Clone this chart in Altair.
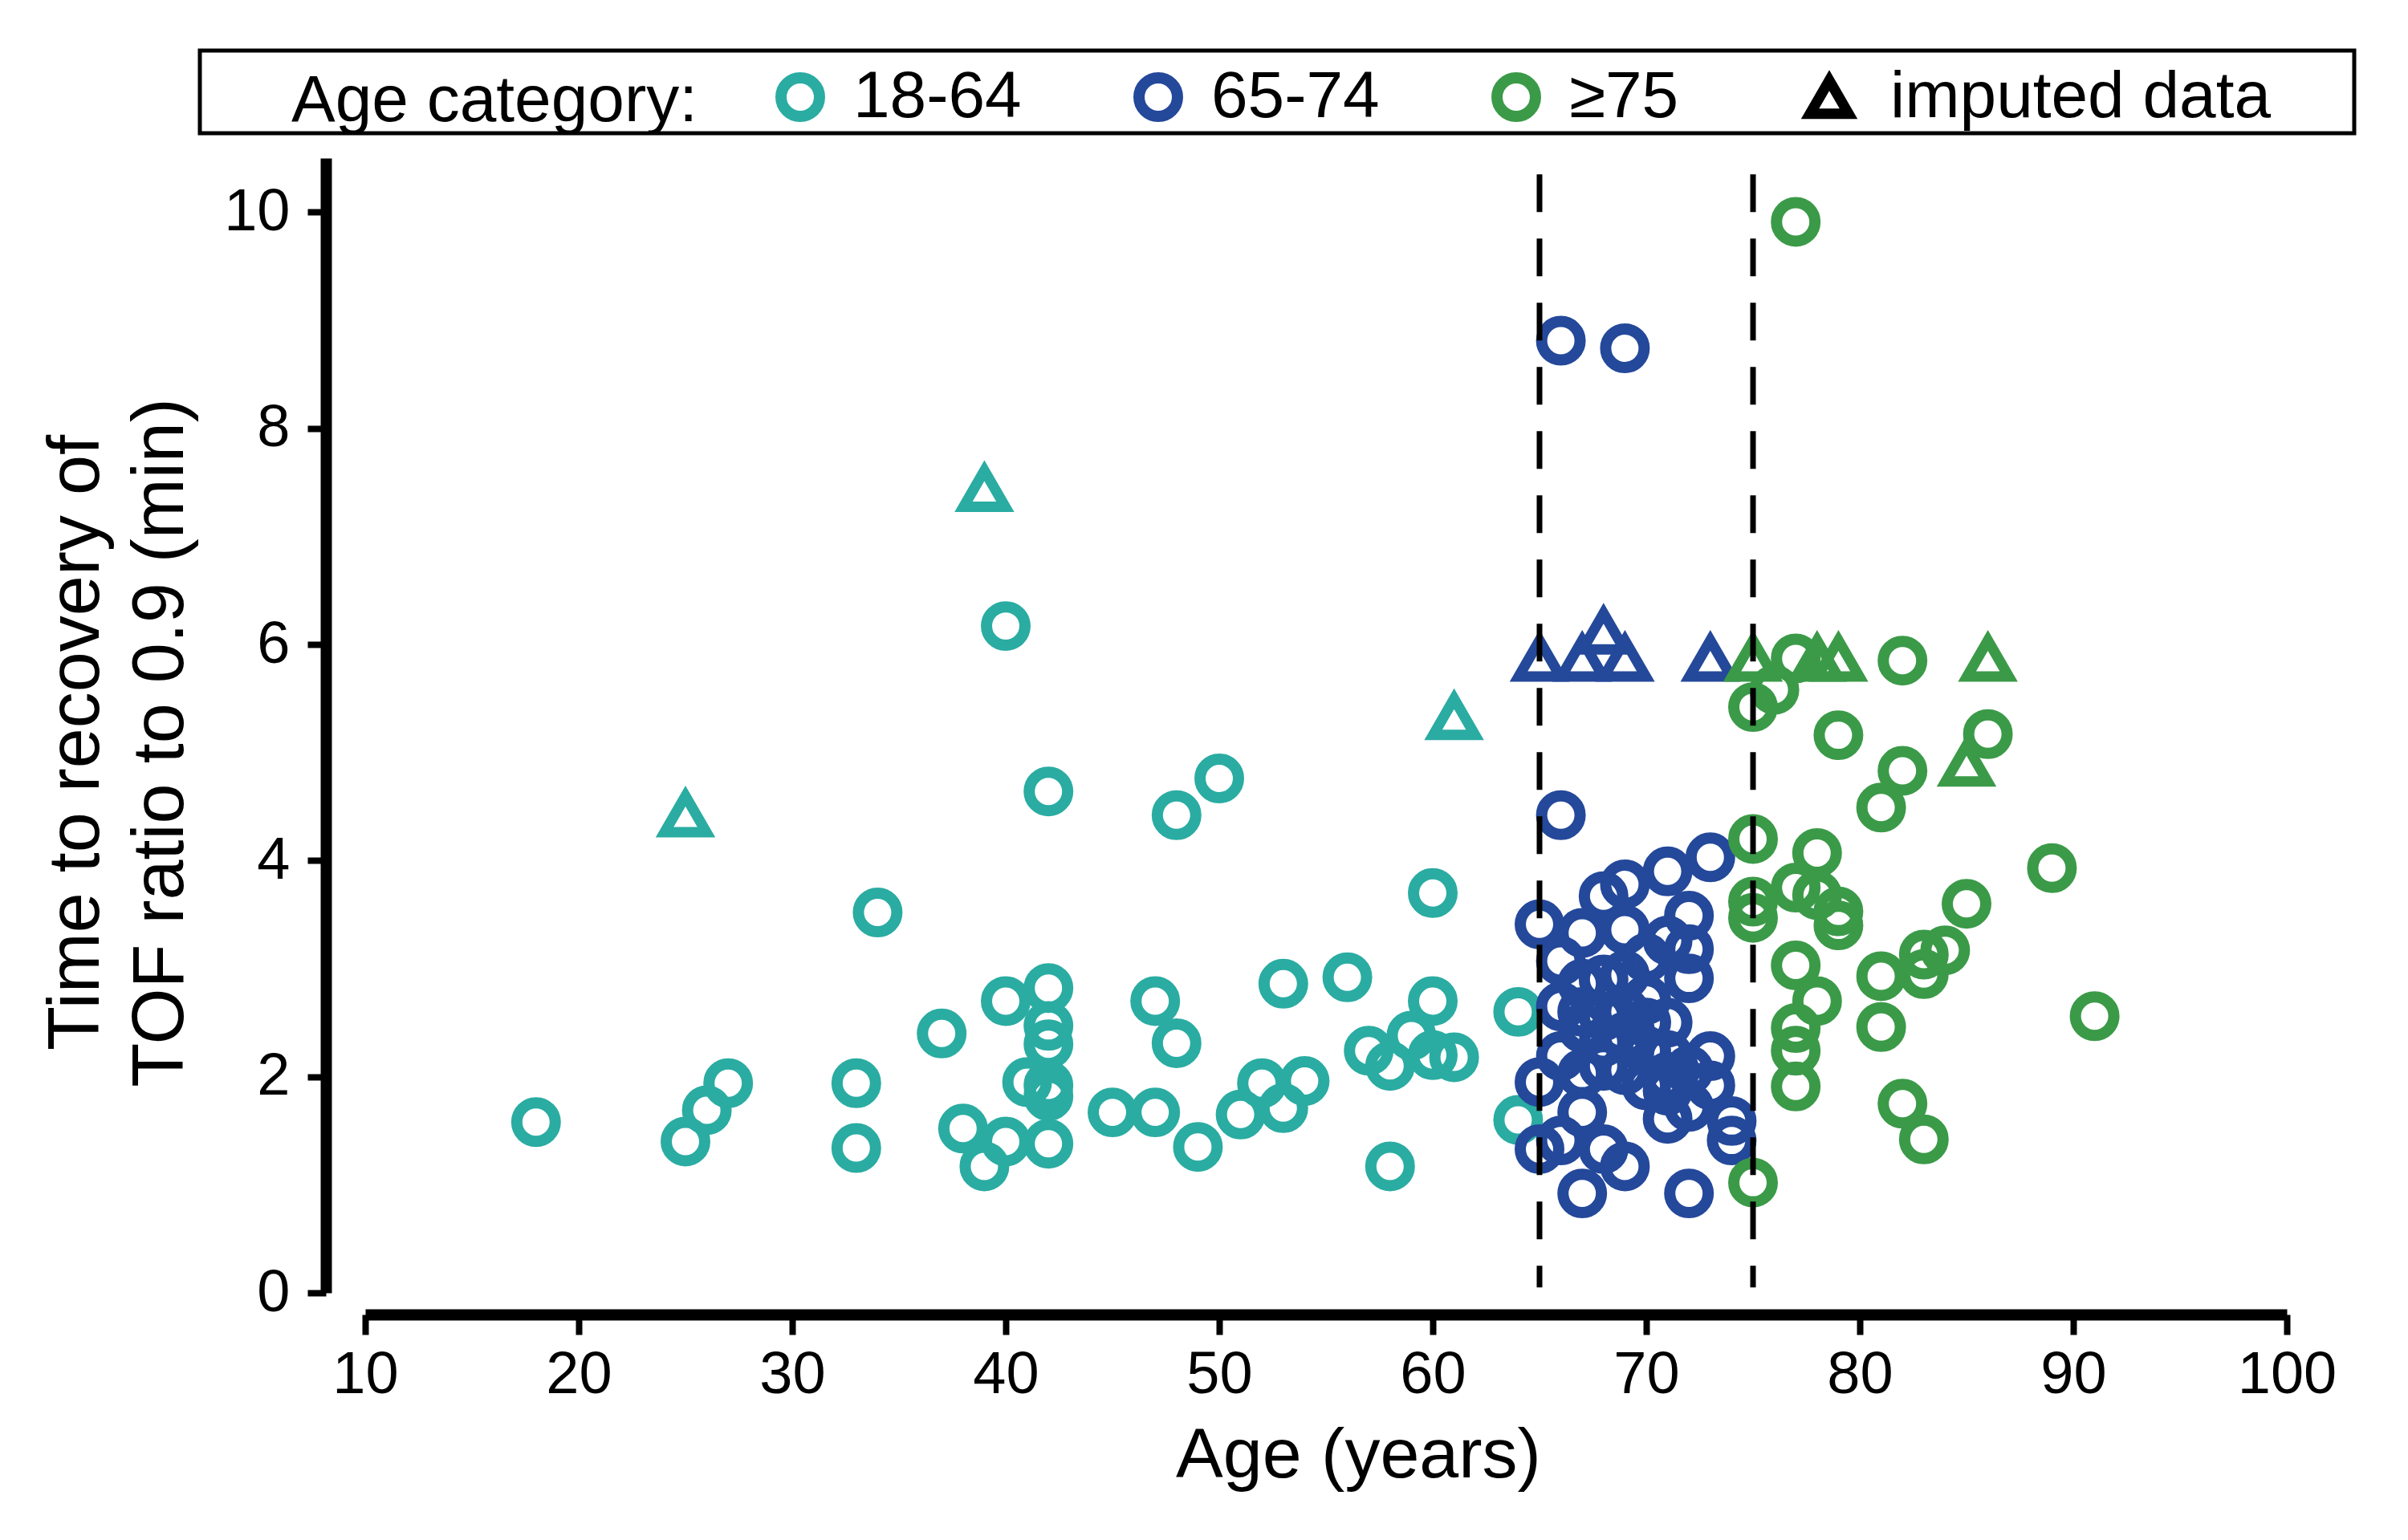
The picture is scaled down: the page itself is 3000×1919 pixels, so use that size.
import altair as alt
import pandas as pd

FONT = "Liberation Sans"

# ---- data ----
groups = ["18-64", "65-74", "\u226575"]
group_colors = ["#2aaca2", "#24489a", "#3b9a48"]
kinds = ["observed", "imputed data"]

teal_age = [18, 25, 26, 27, 33, 33, 34, 37, 38, 39, 40, 40, 40, 41, 42, 42, 42, 42, 42, 42, 42,
            45, 47, 47, 48, 48, 49, 50, 51, 52, 53, 53, 54, 56, 57, 58, 58, 59, 60, 60, 60, 61, 64, 64]
teal_time = [1.58, 1.40, 1.69, 1.94, 1.94, 1.34, 3.52, 2.40, 1.52, 1.17, 1.40, 6.17, 2.70, 1.95,
             2.82, 4.64, 2.47, 2.30, 1.92, 1.82, 1.38, 1.67, 1.67, 2.70, 2.31, 4.42, 1.35, 4.76,
             1.65, 1.94, 1.71, 2.86, 1.96, 2.92, 2.24, 2.10, 1.17, 2.38, 2.70, 3.70, 2.20, 2.18,
             2.60, 1.60]
teal_imp_age = [25, 39, 61]
teal_imp_time = [4.43, 7.44, 5.33]

blue_age = [66, 69, 66, 73, 71, 69, 68, 69, 67, 65, 72, 72, 72, 71, 69, 66, 66, 67, 68, 70, 71,
            67, 68, 69, 70, 66, 65, 67, 69, 70, 73, 72, 71, 71, 73, 74, 74, 67, 65, 66, 68, 69,
            67, 72, 68, 70, 69, 68, 70, 67, 71, 72, 71]
blue_time = [8.81, 8.74, 4.42, 4.03, 3.90, 3.78, 3.67, 3.36, 3.33, 3.41, 3.49, 3.18, 2.91, 3.26,
             2.94, 3.07, 2.65, 2.86, 2.56, 2.71, 2.50, 2.45, 2.32, 2.37, 2.24, 2.19, 1.95, 2.03,
             2.06, 1.92, 2.19, 2.06, 1.87, 1.61, 1.92, 1.59, 1.41, 1.67, 1.33, 1.41, 1.33, 1.17,
             0.92, 0.92, 2.90, 2.50, 2.60, 2.10, 3.10, 2.60, 2.20, 1.72, 2.00]
blue_imp_age = [65, 67, 68, 69, 73]
blue_imp_time = [5.87, 5.87, 6.12, 5.87, 5.87]

green_age = [77, 75, 76, 77, 82, 79, 86, 82, 81, 75, 78, 77, 75, 75, 78, 79, 79, 89, 85, 83, 84,
             83, 81, 77, 78, 81, 77, 77, 77, 91, 82, 83, 75]
green_time = [9.91, 5.42, 5.58, 5.87, 5.85, 5.16, 5.17, 4.83, 4.49, 4.20, 4.07, 3.75, 3.62, 3.47,
              3.68, 3.53, 3.40, 3.93, 3.60, 3.13, 3.17, 2.95, 2.93, 3.03, 2.70, 2.46, 2.45, 2.24,
              1.91, 2.56, 1.75, 1.42, 1.02]
green_imp_age = [75, 78, 79, 86, 85]
green_imp_time = [5.87, 5.87, 5.87, 5.87, 4.90]

cutoffs = [65, 75]
cutoff_top = 10.35
cutoff_bottom = 0.05

rows = []
for g, (a_obs, t_obs, a_imp, t_imp) in zip(
    groups,
    [(teal_age, teal_time, teal_imp_age, teal_imp_time),
     (blue_age, blue_time, blue_imp_age, blue_imp_time),
     (green_age, green_time, green_imp_age, green_imp_time)],
):
    for a, t in zip(a_obs, t_obs):
        rows.append({"age": a, "time": t, "group": g, "kind": kinds[0]})
    for a, t in zip(a_imp, t_imp):
        rows.append({"age": a, "time": t, "group": g, "kind": kinds[1]})
df = pd.DataFrame(rows)

rule_df = pd.DataFrame({"age": cutoffs, "time": [cutoff_top] * len(cutoffs),
                        "time2": [cutoff_bottom] * len(cutoffs)})

x_axis = alt.Axis(values=list(range(10, 101, 10)), title="Age (years)", offset=27,
                  domainWidth=14, tickWidth=8, tickSize=25, labelFontSize=74,
                  labelPadding=14, titleFontSize=88, titlePadding=20, titleX=1237,
                  labelFlush=False)
y_axis = alt.Axis(values=list(range(0, 11, 2)),
                  title=["Time to recovery of", "TOF ratio to 0.9 (min)"],
                  offset=49, domainWidth=14, tickWidth=8, tickSize=23, labelFontSize=74,
                  labelPadding=22, titleFontSize=90, titleLineHeight=105, titlePadding=32,
                  titleY=728, labelFlush=False)

x_enc = alt.X("age:Q", scale=alt.Scale(domain=[10, 100], nice=False, zero=False), axis=x_axis)
y_enc = alt.Y("time:Q", scale=alt.Scale(domain=[0, 10.5], nice=False), axis=y_axis)

color_legend = alt.Legend(orient="none", legendX=-92, legendY=-117,
                          direction="horizontal", title="Age category:",
                          titleOrient="left", titlePadding=87, titleLimit=2000,
                          titleAnchor="middle", titleBaseline="middle",
                          labelLimit=2000, symbolType="circle", symbolSize=2300,
                          symbolStrokeWidth=14, labelOffset=25,
                          columnPadding=118, padding=0,
                          labelFontSize=82, titleFontSize=82)
color_enc = alt.Color("group:N", scale=alt.Scale(domain=groups, range=group_colors),
                      legend=color_legend)

base = alt.Chart(df)

circles = base.transform_filter(alt.datum.kind == kinds[0]).mark_point(
    filled=False, shape="circle", size=2300, strokeWidth=14, opacity=1
).encode(x=x_enc, y=y_enc, color=color_enc)

triangles = base.transform_filter(alt.datum.kind == kinds[1]).mark_point(
    filled=False, size=2700, strokeWidth=13, opacity=1, color="black"
).encode(
    x=x_enc, y=y_enc, color=color_enc,
    shape=alt.Shape("kind:N", scale=alt.Scale(domain=[kinds[1]], range=["triangle-up"]),
                    legend=alt.Legend(orient="none", legendX=1783, legendY=-117,
                                      title=None, symbolStrokeColor="black",
                                      symbolSize=2300, symbolStrokeWidth=13,
                                      labelOffset=35, padding=0, labelLimit=2000,
                                      labelFontSize=82)),
)

rules = alt.Chart(rule_df).mark_rule(color="black", strokeWidth=7, strokeDash=[47, 33]).encode(
    x=x_enc, y=y_enc, y2="time2:Q"
)

frame = alt.Chart(pd.DataFrame({"k": [0]})).mark_rect(
    fillOpacity=0, stroke="black", strokeWidth=5
).encode(
    x=alt.value(-206), x2=alt.value(2478), y=alt.value(-134), y2=alt.value(-31)
)

chart = alt.layer(circles, triangles, rules, frame).properties(
    width=2394, height=1414, autosize="none",
    padding={"left": 447, "top": 189, "right": 120, "bottom": 290},
).configure_view(stroke="transparent").configure_axis(
    labelFont=FONT, titleFont=FONT, labelColor="black", titleColor="black",
    domainColor="black", tickColor="black", grid=False, titleFontWeight="normal",
).configure_legend(
    labelFont=FONT, titleFont=FONT, labelColor="black", titleColor="black",
    titleFontWeight="normal",
)

chart.save("out.html", embed_options={"renderer": "svg", "actions": False})
